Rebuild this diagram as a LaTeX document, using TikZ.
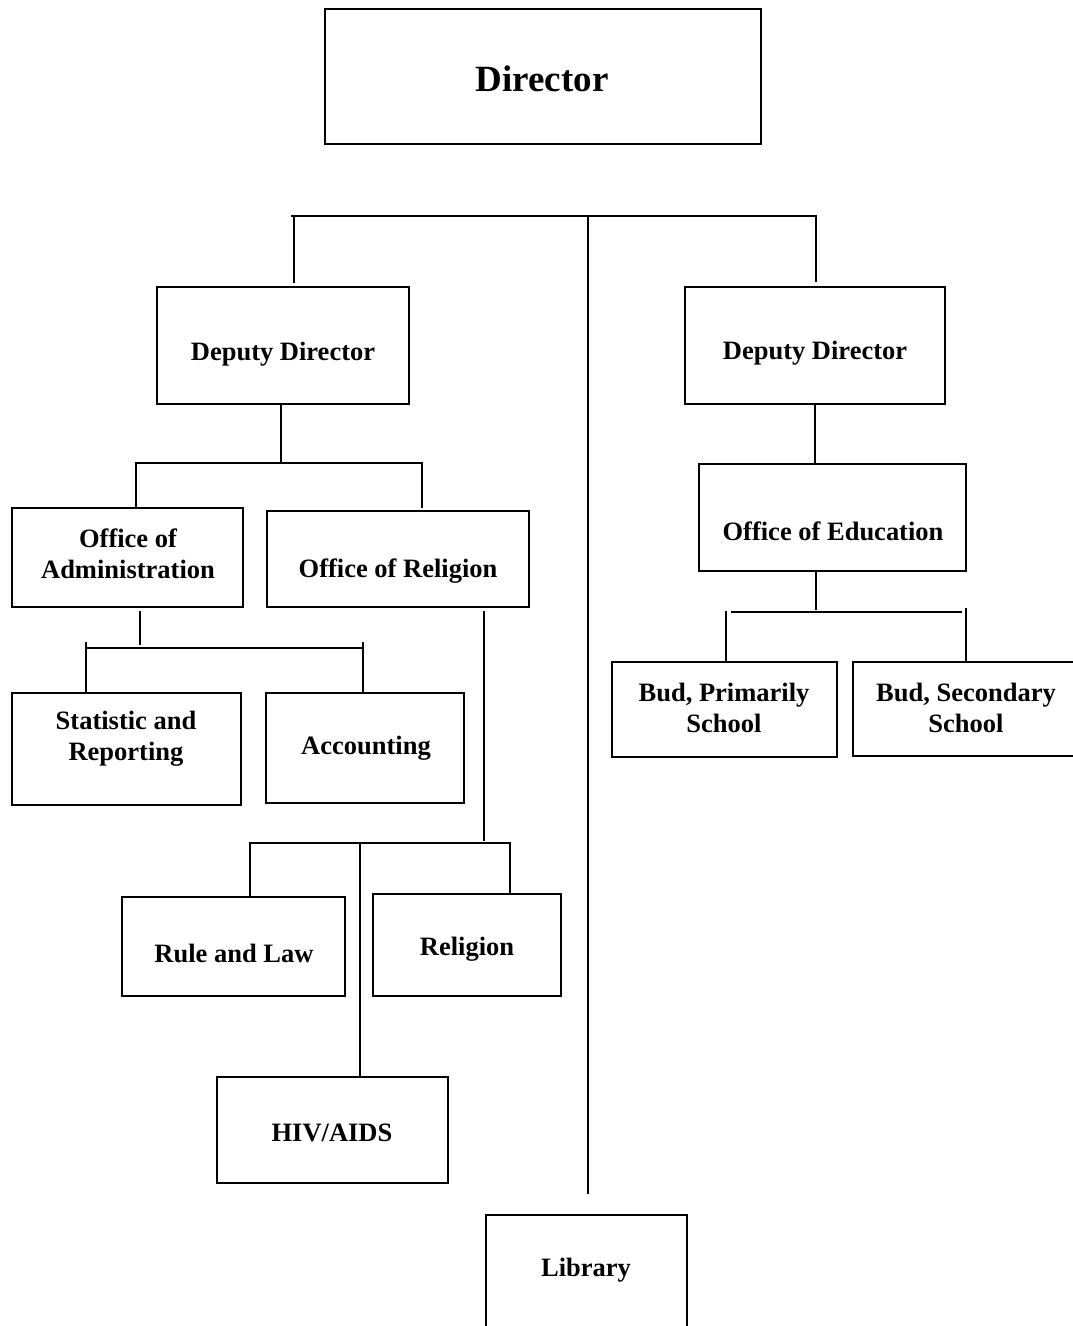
\documentclass[tikz,border=0pt]{standalone}
\usepackage{fontspec}
\setmainfont{Liberation Serif}
\begin{document}
\begin{tikzpicture}[x=1pt,y=-1pt,
  box/.style={draw=black,line width=1.6pt,inner sep=0pt,fill=none},
  lbl/.style={font=\bfseries\fontsize{26.5}{31}\selectfont,align=center,inner sep=0pt,yshift=-3pt},
  big/.style={font=\bfseries\fontsize{37}{42}\selectfont,inner sep=0pt},
  conn/.style={line width=1.6pt,line cap=rect}]
\useasboundingbox (0,0) rectangle (1073,1326);
\begin{scope}
\clip (0,0) rectangle (1073,1326);
% boxes
\node[box,minimum width=436pt,minimum height=135pt] (dir) at (543,76.5) {};
\node[big] (dirT) at (542,79) {Director};
\node[box,minimum width=252pt,minimum height=117pt] (depL) at (283,345.5) {};
\node[lbl] (depLT) at (283,351) {Deputy Director};
\node[box,minimum width=260pt,minimum height=117pt] (depR) at (815,345.5) {};
\node[lbl] (depRT) at (815,350) {Deputy Director};
\node[box,minimum width=231pt,minimum height=99pt] (adm) at (127.5,557.5) {};
\node[lbl] (admT) at (128,551) {Office of\\Administration};
\node[box,minimum width=262pt,minimum height=96pt] (rel) at (398,559) {};
\node[lbl] (relT) at (398,568) {Office of Religion};
\node[box,minimum width=229pt,minimum height=112pt] (stat) at (126.5,749) {};
\node[lbl] (statT) at (126,736) {Statistic and\\Reporting};
\node[box,minimum width=198pt,minimum height=110pt] (acc) at (365,748) {};
\node[lbl] (accT) at (366,745) {Accounting};
\node[box,minimum width=223pt,minimum height=99pt] (rule) at (233.5,946.5) {};
\node[lbl] (ruleT) at (234,950) {Rule and Law};
\node[box,minimum width=188pt,minimum height=102pt] (relg) at (467,945) {};
\node[lbl] (relgT) at (467,946) {Religion};
\node[box,minimum width=231pt,minimum height=106pt] (hiv) at (332.5,1130) {};
\node[lbl] (hivT) at (332,1130) {HIV/AIDS};
\node[box,minimum width=201pt,minimum height=130pt] (lib) at (586.5,1280) {};
\node[lbl] (libT) at (586,1267) {Library};
\node[box,minimum width=267pt,minimum height=107pt] (edu) at (832.5,517.5) {};
\node[lbl] (eduT) at (833,528) {Office of Education};
\node[box,minimum width=225pt,minimum height=95pt] (prim) at (724.5,709.5) {};
\node[lbl] (primT) at (724,705) {Bud, Primarily\\School};
\node[box,minimum width=230pt,minimum height=94pt] (sec) at (968,709) {};
\node[lbl] (secT) at (966,705) {Bud, Secondary\\School};
% junction coordinates
\coordinate (busL) at (292,216);
\coordinate (busR) at (816,216);
\coordinate (busM) at (588,216);
\coordinate (libTop) at (588,1193);
\coordinate (a1) at (136,463);
\coordinate (a2) at (422,463);
\coordinate (b0) at (140,612);
\coordinate (b1) at (86,648);
\coordinate (b2) at (363,648);
\coordinate (c0) at (484,612);
\coordinate (c1) at (250,843);
\coordinate (c2) at (510,843);
\coordinate (c3) at (360,843);
\coordinate (e0) at (816,609);
\coordinate (e1) at (732,612);
\coordinate (e2) at (961,612);
\end{scope}
% connectors
\draw[conn] (busL) -- (busR);
\draw[conn] (294,216) -- (294,282);
\draw[conn] (busR) -- (816,281);
\draw[conn] (busM) -- (libTop);
\draw[conn] (depL.south -| 281,0) -- (281,463);
\draw[conn] (a1) -- (a2);
\draw[conn] (a1) -- (136,507);
\draw[conn] (a2) -- (422,507);
\draw[conn] (b0) -- (140,644);
\draw[conn] (b1) -- (b2);
\draw[conn] (86,643) -- (stat.north -| 86,0);
\draw[conn] (363,643) -- (acc.north -| 363,0);
\draw[conn] (c0) -- (484,840);
\draw[conn] (c1) -- (c2);
\draw[conn] (c1) -- (rule.north -| c1);
\draw[conn] (c2) -- (relg.north -| c2);
\draw[conn] (c3) -- (360,1075);
\draw[conn] (depR.south) -- (edu.north -| depR.south);
\draw[conn] (edu.south -| e0) -- (e0);
\draw[conn] (e1) -- (e2);
\draw[conn] (726,612) -- (prim.north -| 726,0);
\draw[conn] (966,609) -- (sec.north -| 966,0);
\end{tikzpicture}
\end{document}
